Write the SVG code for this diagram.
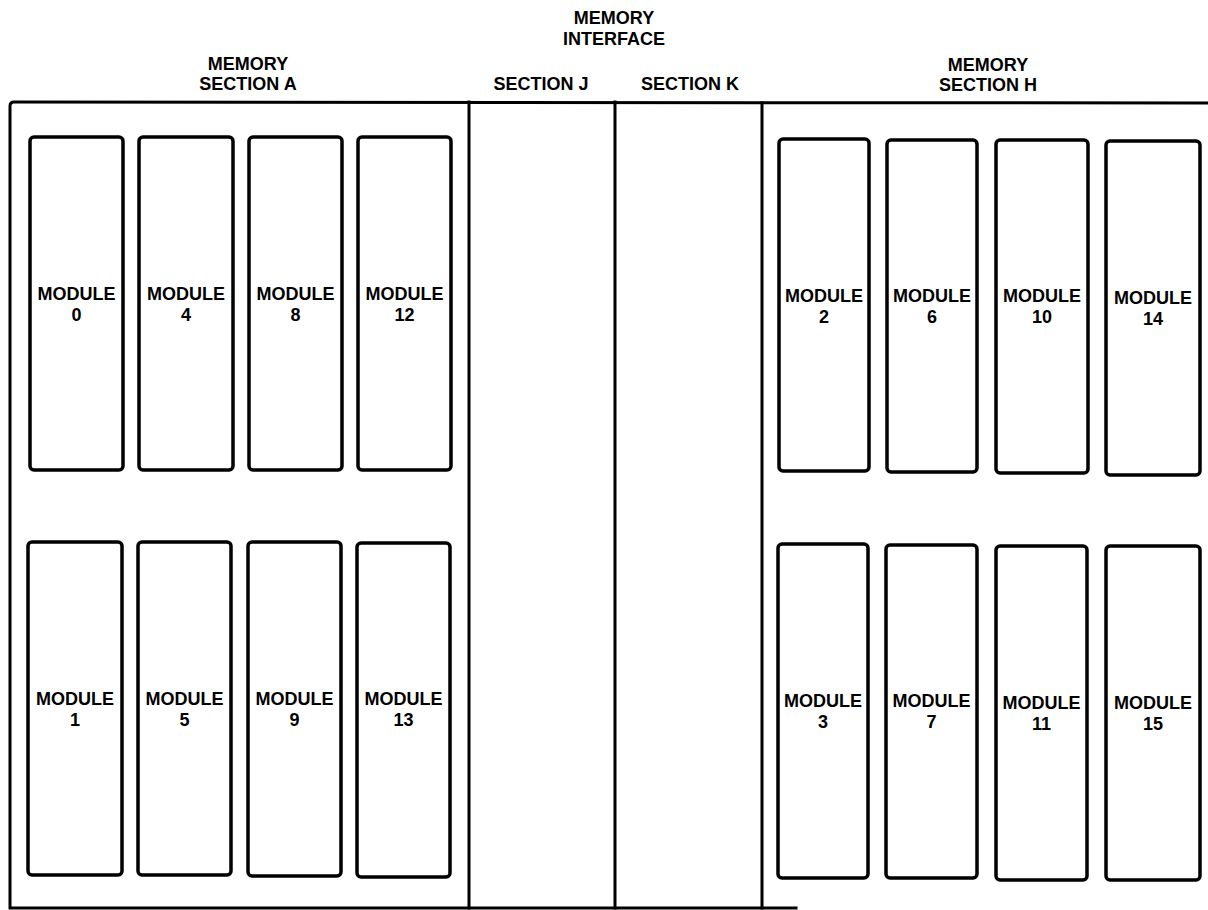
<svg xmlns="http://www.w3.org/2000/svg" width="1208" height="910" viewBox="0 0 1208 910">
<style>
.frame{fill:none;stroke:#000;stroke-width:3;stroke-linecap:square}
.mod{fill:#fff;stroke:#000;stroke-width:3.5}
.t{font-family:"Liberation Sans",Arial,sans-serif;font-weight:bold;font-size:18px;text-anchor:middle;fill:#000}
.h{font-family:"Liberation Sans",Arial,sans-serif;font-weight:bold;font-size:18px;text-anchor:middle;fill:#000}
</style>
<rect width="1208" height="910" fill="#fff"/>
<g id="headers">
<text class="h" x="248" y="70">MEMORY</text>
<text class="h" x="248" y="90">SECTION  A</text>
<text class="h" x="614" y="24">MEMORY</text>
<text class="h" x="614" y="45">INTERFACE</text>
<text class="h" x="541" y="90">SECTION  J</text>
<text class="h" x="690" y="90">SECTION  K</text>
<text class="h" x="988" y="71">MEMORY</text>
<text class="h" x="988" y="91">SECTION  H</text>
</g>
<g id="frame">
<path class="frame" d="M1208,103 L14,102 Q10,102 10,106 L10,908 L796,908"/>
<line class="frame" x1="469" y1="102" x2="469" y2="908"/>
<line class="frame" x1="615" y1="102" x2="615" y2="908"/>
<line class="frame" x1="762" y1="103" x2="762" y2="908"/>
</g>
<g id="modules">
<g id="m0"><rect class="mod" x="30" y="137" width="93" height="333" rx="4"/><text class="t" x="76.5" y="300">MODULE</text><text class="t" x="76.5" y="321">0</text></g>
<g id="m4"><rect class="mod" x="139" y="137" width="94" height="333" rx="4"/><text class="t" x="186" y="300">MODULE</text><text class="t" x="186" y="321">4</text></g>
<g id="m8"><rect class="mod" x="249" y="137" width="93" height="333" rx="4"/><text class="t" x="295.5" y="300">MODULE</text><text class="t" x="295.5" y="321">8</text></g>
<g id="m12"><rect class="mod" x="358" y="137" width="93" height="333" rx="4"/><text class="t" x="404.5" y="300">MODULE</text><text class="t" x="404.5" y="321">12</text></g>
<g id="m1"><rect class="mod" x="28" y="542" width="94" height="333" rx="4"/><text class="t" x="75" y="705">MODULE</text><text class="t" x="75" y="726">1</text></g>
<g id="m5"><rect class="mod" x="138" y="542" width="93" height="333" rx="4"/><text class="t" x="184.5" y="705">MODULE</text><text class="t" x="184.5" y="726">5</text></g>
<g id="m9"><rect class="mod" x="248" y="542" width="93" height="334" rx="4"/><text class="t" x="294.5" y="705">MODULE</text><text class="t" x="294.5" y="726">9</text></g>
<g id="m13"><rect class="mod" x="357" y="543" width="93" height="334" rx="4"/><text class="t" x="403.5" y="705">MODULE</text><text class="t" x="403.5" y="726">13</text></g>
<g id="m2"><rect class="mod" x="779" y="139" width="90" height="332" rx="4"/><text class="t" x="824" y="302">MODULE</text><text class="t" x="824" y="323">2</text></g>
<g id="m6"><rect class="mod" x="887" y="140" width="90" height="332" rx="4"/><text class="t" x="932" y="302">MODULE</text><text class="t" x="932" y="323">6</text></g>
<g id="m10"><rect class="mod" x="996" y="140" width="92" height="333" rx="4"/><text class="t" x="1042" y="302">MODULE</text><text class="t" x="1042" y="323">10</text></g>
<g id="m14"><rect class="mod" x="1106" y="141" width="94" height="334" rx="4"/><text class="t" x="1153" y="304">MODULE</text><text class="t" x="1153" y="325">14</text></g>
<g id="m3"><rect class="mod" x="778" y="544" width="90" height="334" rx="4"/><text class="t" x="823" y="707">MODULE</text><text class="t" x="823" y="728">3</text></g>
<g id="m7"><rect class="mod" x="886" y="545" width="91" height="333" rx="4"/><text class="t" x="931.5" y="707">MODULE</text><text class="t" x="931.5" y="728">7</text></g>
<g id="m11"><rect class="mod" x="996" y="546" width="91" height="334" rx="4"/><text class="t" x="1041.5" y="709">MODULE</text><text class="t" x="1041.5" y="730">11</text></g>
<g id="m15"><rect class="mod" x="1106" y="546" width="94" height="334" rx="4"/><text class="t" x="1153" y="709">MODULE</text><text class="t" x="1153" y="730">15</text></g>
</g>
</svg>
